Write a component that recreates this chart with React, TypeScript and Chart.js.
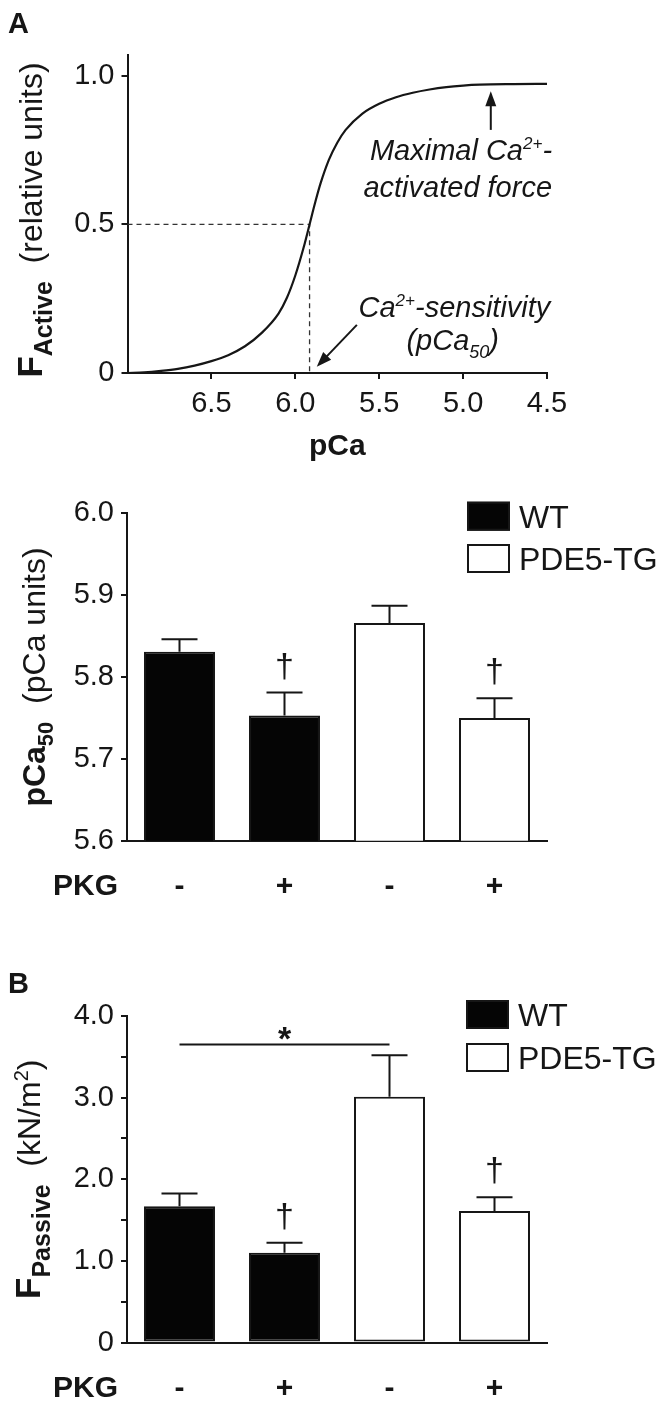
import React, { useEffect, useRef } from 'react';
import { Chart, registerables } from 'chart.js';

Chart.register(...registerables);

const FONT = '"Liberation Sans", Arial, Helvetica, sans-serif';
const INK = '#161616';

// ---------- Panel A: force–pCa relation ----------
const curvePCa = [7.0, 6.9, 6.8, 6.7, 6.6, 6.5, 6.4, 6.3, 6.2, 6.1, 6.05, 6.0, 5.95, 5.915, 5.88, 5.85, 5.8, 5.75, 5.7, 5.6, 5.5, 5.4, 5.3, 5.2, 5.1, 5.0, 4.9, 4.7, 4.5];
const curveForce = [0.0, 0.002, 0.007, 0.014, 0.025, 0.04, 0.06, 0.09, 0.135, 0.2, 0.253, 0.328, 0.423, 0.5, 0.577, 0.637, 0.717, 0.775, 0.818, 0.873, 0.906, 0.928, 0.943, 0.954, 0.962, 0.967, 0.97, 0.972, 0.973];
const pCa50 = 5.915;
const halfForce = 0.5;
const pCaTicks = [6.5, 6.0, 5.5, 5.0, 4.5];
const forceTicks = [0, 0.5, 1.0];

// ---------- Bar panels ----------
const groups = ['WT', 'WT', 'PDE5-TG', 'PDE5-TG'];
const pkgLabels = ['-', '+', '-', '+'];
const legendNames = ['WT', 'PDE5-TG'];

const pca50Mean = [5.831, 5.753, 5.866, 5.75];
const pca50Sem = [0.015, 0.028, 0.021, 0.024];
const pca50Dagger = [false, true, false, true];
const pca50Ticks = [5.6, 5.7, 5.8, 5.9, 6.0];

const passiveMean = [1.67, 1.1, 3.01, 1.61];
const passiveSem = [0.155, 0.123, 0.51, 0.168];
const passiveDagger = [false, true, false, true];
const passiveTicks = [0, 0.5, 1.0, 1.5, 2.0, 2.5, 3.0, 3.5, 4.0];
const passiveSigPair = [0, 2];
const passiveSigLevel = 3.65;

const groupFill: Record<string, string> = { WT: '#050505', 'PDE5-TG': '#ffffff' };

type Seg = { t: string; f: string; dy?: number };
const fnt = (size: number, weight = 'normal', style = 'normal') => `${style} ${weight} ${size}px ${FONT}`;

function drawRich(ctx: CanvasRenderingContext2D, segs: Seg[], x: number, y: number, align: 'left' | 'center' | 'right') {
  ctx.textBaseline = 'alphabetic';
  ctx.textAlign = 'left';
  let w = 0;
  for (const s of segs) {
    ctx.font = s.f;
    w += ctx.measureText(s.t).width;
  }
  let cx = align === 'left' ? x : align === 'center' ? x - w / 2 : x - w;
  for (const s of segs) {
    ctx.font = s.f;
    ctx.fillText(s.t, cx, y + (s.dy || 0));
    cx += ctx.measureText(s.t).width;
  }
}

function drawArrow(ctx: CanvasRenderingContext2D, x1: number, y1: number, x2: number, y2: number) {
  const ang = Math.atan2(y2 - y1, x2 - x1);
  const head = 15;
  const hw = 5.5;
  ctx.beginPath();
  ctx.moveTo(x1, y1);
  ctx.lineTo(x2 - Math.cos(ang) * head * 0.8, y2 - Math.sin(ang) * head * 0.8);
  ctx.stroke();
  ctx.beginPath();
  ctx.moveTo(x2, y2);
  ctx.lineTo(x2 - head * Math.cos(ang) + hw * Math.sin(ang), y2 - head * Math.sin(ang) - hw * Math.cos(ang));
  ctx.lineTo(x2 - head * Math.cos(ang) - hw * Math.sin(ang), y2 - head * Math.sin(ang) + hw * Math.cos(ang));
  ctx.closePath();
  ctx.fill();
}

function drawVerticalTitle(ctx: CanvasRenderingContext2D, segs: Seg[], baseX: number, centerY: number) {
  ctx.save();
  ctx.translate(baseX, centerY);
  ctx.rotate(-Math.PI / 2);
  drawRich(ctx, segs, 0, 0, 'center');
  ctx.restore();
}

const gridOpts = { drawOnChartArea: false, drawTicks: true, tickLength: 6, color: INK, lineWidth: 2 };
const borderOpts = { display: true, color: INK, width: 2 };

function makeCurveChart(canvas: HTMLCanvasElement) {
  const annot = {
    id: 'annotA',
    afterDraw(chart: any) {
      const ctx: CanvasRenderingContext2D = chart.ctx;
      const xs = chart.scales.x;
      const ys = chart.scales.y;
      const ca = chart.chartArea;
      ctx.save();
      ctx.fillStyle = INK;
      ctx.strokeStyle = INK;
      ctx.lineWidth = 2;
      drawRich(ctx, [{ t: 'A', f: fnt(29, 'bold') }], 8, 33, 'left');
      drawRich(ctx, [{ t: 'pCa', f: fnt(30, 'bold') }], (ca.left + ca.right) / 2, 455, 'center');
      drawVerticalTitle(
        ctx,
        [
          { t: 'F', f: fnt(35, 'bold') },
          { t: 'Active', f: fnt(25, 'bold'), dy: 10 },
          { t: '  (relative units)', f: fnt(32) },
        ],
        42,
        (ca.top + ca.bottom) / 2 + 6
      );
      const it = (s: number) => fnt(s, 'normal', 'italic');
      drawRich(ctx, [{ t: 'Maximal Ca', f: it(29) }, { t: '2+', f: it(17), dy: -11 }, { t: '-', f: it(29) }], xs.getPixelForValue(4.47), ys.getPixelForValue(0.717), 'right');
      drawRich(ctx, [{ t: 'activated force', f: it(29) }], xs.getPixelForValue(4.47), ys.getPixelForValue(0.593), 'right');
      drawArrow(ctx, xs.getPixelForValue(4.835), ys.getPixelForValue(0.818), xs.getPixelForValue(4.835), ys.getPixelForValue(0.948));
      drawRich(ctx, [{ t: 'Ca', f: it(29) }, { t: '2+', f: it(17), dy: -11 }, { t: '-sensitivity', f: it(29) }], xs.getPixelForValue(4.48), ys.getPixelForValue(0.189), 'right');
      drawRich(ctx, [{ t: '(pCa', f: it(29) }, { t: '50', f: it(18), dy: 8 }, { t: ')', f: it(29) }], xs.getPixelForValue(5.062), ys.getPixelForValue(0.077), 'center');
      drawArrow(ctx, xs.getPixelForValue(5.633), ys.getPixelForValue(0.162), xs.getPixelForValue(5.872), ys.getPixelForValue(0.021));
      ctx.restore();
    },
  };

  return new Chart(canvas, {
    type: 'line',
    data: {
      datasets: [
        {
          data: curvePCa.map((x, i) => ({ x, y: curveForce[i] })),
          borderColor: INK,
          borderWidth: 2.2,
          pointRadius: 0,
          cubicInterpolationMode: 'monotone',
          fill: false,
        },
        {
          data: [
            { x: curvePCa[0], y: halfForce },
            { x: pCa50, y: halfForce },
            { x: pCa50, y: 0 },
          ],
          borderColor: '#333',
          borderWidth: 1.3,
          borderDash: [5, 4],
          pointRadius: 0,
          tension: 0,
          fill: false,
        },
      ],
    } as any,
    options: {
      animation: false,
      responsive: false,
      maintainAspectRatio: false,
      layout: { padding: { left: 0, right: 122, top: 55, bottom: 0 } },
      plugins: { legend: { display: false }, tooltip: { enabled: false } },
      scales: {
        x: {
          type: 'linear',
          reverse: true,
          min: 4.5,
          max: 7.0,
          afterBuildTicks: (s: any) => {
            s.ticks = pCaTicks.map((v) => ({ value: v }));
          },
          afterFit: (s: any) => {
            s.height = 97;
          },
          ticks: {
            font: { family: FONT, size: 29 },
            color: INK,
            padding: 8,
            maxRotation: 0,
            autoSkip: false,
            callback: (v: any) => Number(v).toFixed(1),
          },
          grid: gridOpts,
          border: borderOpts,
        },
        y: {
          min: 0,
          max: 1.07,
          afterBuildTicks: (s: any) => {
            s.ticks = forceTicks.map((v) => ({ value: v }));
          },
          afterFit: (s: any) => {
            s.width = 127.5;
          },
          ticks: {
            font: { family: FONT, size: 29 },
            color: INK,
            padding: 7,
            callback: (v: any) => (Number(v) === 0 ? '0' : Number(v).toFixed(1)),
          },
          grid: gridOpts,
          border: borderOpts,
        },
      },
    } as any,
    plugins: [annot],
  });
}

type BarCfg = {
  mean: number[];
  sem: number[];
  dagger: boolean[];
  ticks: number[];
  min: number;
  max: number;
  tickLabel: (v: number) => string;
  chartTop: number;
  xAxisH: number;
  rowPad: number;
  legendTop: number;
  legendGap: number;
  legendX: number;
  title: Seg[];
  titleX: number;
  letter?: { t: string; y: number };
  sig?: { pair: number[]; level: number };
};

function makeBarChart(canvas: HTMLCanvasElement, cfg: BarCfg) {
  const deco = {
    id: 'barDeco',
    afterDatasetsDraw(chart: any) {
      const ctx: CanvasRenderingContext2D = chart.ctx;
      const ys = chart.scales.y;
      const meta = chart.getDatasetMeta(0);
      ctx.save();
      ctx.strokeStyle = INK;
      ctx.fillStyle = INK;
      ctx.lineWidth = 2;
      cfg.mean.forEach((m, i) => {
        const bar = meta.data[i];
        const x = bar.x;
        const yTop = ys.getPixelForValue(m + cfg.sem[i]);
        ctx.beginPath();
        ctx.moveTo(x, bar.y);
        ctx.lineTo(x, yTop);
        ctx.moveTo(x - 18, yTop);
        ctx.lineTo(x + 18, yTop);
        ctx.stroke();
        if (cfg.dagger[i]) {
          drawRich(ctx, [{ t: '\u2020', f: fnt(34) }], x, yTop - 16, 'center');
        }
      });
      if (cfg.sig) {
        const xa = meta.data[cfg.sig.pair[0]].x;
        const xb = meta.data[cfg.sig.pair[1]].x;
        const y = ys.getPixelForValue(cfg.sig.level);
        ctx.beginPath();
        ctx.moveTo(xa, y);
        ctx.lineTo(xb, y);
        ctx.stroke();
        drawRich(ctx, [{ t: '*', f: fnt(34, 'bold') }], (xa + xb) / 2, y + 5, 'center');
      }
      ctx.restore();
    },
    afterDraw(chart: any) {
      const ctx: CanvasRenderingContext2D = chart.ctx;
      const ca = chart.chartArea;
      ctx.save();
      ctx.fillStyle = INK;
      ctx.strokeStyle = INK;
      ctx.lineWidth = 2;
      legendNames.forEach((name, i) => {
        const top = ca.top + cfg.legendTop + i * cfg.legendGap;
        ctx.fillStyle = groupFill[name];
        ctx.fillRect(cfg.legendX, top, 43, 29);
        ctx.strokeRect(cfg.legendX + 1, top + 1, 41, 27);
        ctx.fillStyle = INK;
        ctx.font = fnt(32);
        ctx.textAlign = 'left';
        ctx.textBaseline = 'alphabetic';
        ctx.fillText(name, cfg.legendX + 52, top + 26);
      });
      ctx.font = fnt(30, 'bold');
      ctx.textAlign = 'left';
      ctx.textBaseline = 'middle';
      ctx.fillText('PKG', 53, ca.bottom + cfg.rowPad + 18);
      drawVerticalTitle(ctx, cfg.title, cfg.titleX, (ca.top + ca.bottom) / 2);
      if (cfg.letter) drawRich(ctx, [{ t: cfg.letter.t, f: fnt(29, 'bold') }], 8, cfg.letter.y, 'left');
      ctx.restore();
    },
  };

  return new Chart(canvas, {
    type: 'bar',
    data: {
      labels: pkgLabels,
      datasets: [
        {
          data: cfg.mean,
          backgroundColor: groups.map((g) => groupFill[g]),
          borderColor: INK,
          borderWidth: 2,
          borderSkipped: false,
          barPercentage: 0.676,
          categoryPercentage: 1,
        },
      ],
    } as any,
    options: {
      animation: false,
      responsive: false,
      maintainAspectRatio: false,
      layout: { padding: { left: 0, right: 122, top: cfg.chartTop, bottom: 0 } },
      plugins: { legend: { display: false }, tooltip: { enabled: false } },
      scales: {
        x: {
          afterFit: (s: any) => {
            s.height = cfg.xAxisH;
          },
          ticks: {
            font: { family: FONT, size: 30, weight: 'bold' },
            color: INK,
            padding: cfg.rowPad,
            maxRotation: 0,
            autoSkip: false,
          },
          grid: { drawOnChartArea: false, drawTicks: false, color: INK },
          border: borderOpts,
        },
        y: {
          min: cfg.min,
          max: cfg.max,
          afterBuildTicks: (s: any) => {
            s.ticks = cfg.ticks.map((v) => ({ value: v }));
          },
          afterFit: (s: any) => {
            s.width = 127;
          },
          ticks: {
            font: { family: FONT, size: 29 },
            color: INK,
            padding: 7,
            callback: (v: any) => cfg.tickLabel(Number(v)),
          },
          grid: gridOpts,
          border: borderOpts,
        },
      },
    } as any,
    plugins: [deco],
  });
}

export default function App() {
  const aRef = useRef<HTMLCanvasElement>(null);
  const mRef = useRef<HTMLCanvasElement>(null);
  const bRef = useRef<HTMLCanvasElement>(null);

  useEffect(() => {
    document.body.style.margin = '0';
    const charts: Chart[] = [];
    if (aRef.current) charts.push(makeCurveChart(aRef.current));
    if (mRef.current)
      charts.push(
        makeBarChart(mRef.current, {
          mean: pca50Mean,
          sem: pca50Sem,
          dagger: pca50Dagger,
          ticks: pca50Ticks,
          min: 5.6,
          max: 6.0,
          tickLabel: (v) => v.toFixed(1),
          chartTop: 43.3,
          xAxisH: 79.3,
          rowPad: 27.8,
          legendTop: -11.6,
          legendGap: 42.3,
          legendX: 467,
          title: [
            { t: 'pCa', f: fnt(32, 'bold') },
            { t: '50', f: fnt(22, 'bold'), dy: 8 },
            { t: '  (pCa units)', f: fnt(32) },
          ],
          titleX: 45,
        })
      );
    if (bRef.current)
      charts.push(
        makeBarChart(bRef.current, {
          mean: passiveMean,
          sem: passiveSem,
          dagger: passiveDagger,
          ticks: passiveTicks,
          min: 0,
          max: 4.0,
          tickLabel: (v) => (v === 0 ? '0' : Number.isInteger(v) ? v.toFixed(1) : ''),
          chartTop: 96,
          xAxisH: 65.5,
          rowPad: 28.5,
          legendTop: -16,
          legendGap: 43,
          legendX: 466,
          title: [
            { t: 'F', f: fnt(35, 'bold') },
            { t: 'Passive', f: fnt(25, 'bold'), dy: 10 },
            { t: '  (kN/m', f: fnt(32) },
            { t: '2', f: fnt(20), dy: -12 },
            { t: ')', f: fnt(32) },
          ],
          titleX: 40,
          letter: { t: 'B', y: 73 },
          sig: { pair: passiveSigPair, level: passiveSigLevel },
        })
      );
    return () => charts.forEach((c) => c.destroy());
  }, []);

  return (
    <div style={{ position: 'relative', width: 669, height: 1408, background: '#fff', overflow: 'hidden' }}>
      <canvas ref={aRef} width={669} height={470} style={{ position: 'absolute', left: 0, top: 0, display: 'block' }} />
      <canvas ref={mRef} width={669} height={450} style={{ position: 'absolute', left: 0, top: 470, display: 'block' }} />
      <canvas ref={bRef} width={669} height={488} style={{ position: 'absolute', left: 0, top: 920, display: 'block' }} />
    </div>
  );
}
